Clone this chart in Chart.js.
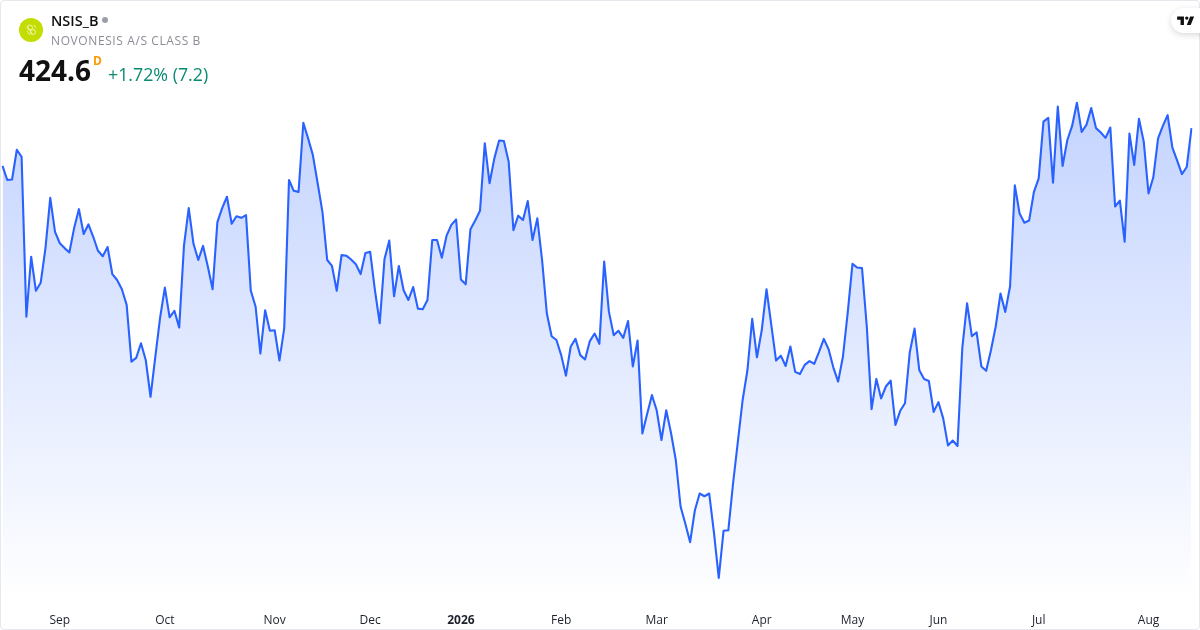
<!DOCTYPE html>
<html>
<head>
<meta charset="utf-8">
<title>NSIS_B</title>
<script src="https://cdn.jsdelivr.net/npm/chart.js@4"></script>
<style>
  html, body { margin: 0; padding: 0; background: #fff; }
  #card { position: relative; width: 1200px; height: 630px; overflow: hidden; font-family: "Open Sans", sans-serif; color: #111; }
  #frame { position: absolute; left: 0; top: 0; width: 1198px; height: 628px; border: 1px solid #e6e8ee; border-radius: 4px; pointer-events: none; }
  canvas { position: absolute; left: 0; top: 0; }
  .txt { position: absolute; white-space: nowrap; line-height: 1; }
  #logo { position: absolute; left: 19px; top: 18px; width: 24px; height: 24px; border-radius: 50%; background: #c3dd00; }
  #dot { position: absolute; left: 102px; top: 17px; width: 6px; height: 6px; border-radius: 50%; background: #9a9ea8; }
  #tv { position: absolute; left: 1171px; top: 8px; width: 50px; height: 25px; border-radius: 13px; background: #fff; box-shadow: 0 2px 6px rgba(0,0,0,.15); }
</style>
</head>
<body>
<div id="card">
  <canvas id="priceChart" width="1200" height="630"></canvas>
  <div id="frame"></div>
  <div id="logo">
    <svg width="24" height="24" viewBox="0 0 24 24" fill="none" stroke="#eef5b0" stroke-width="1">
      <circle cx="11" cy="9.5" r="2.5"/><circle cx="14" cy="14" r="2.5"/><path d="M8 13l3 4M15 7l2 3M8 8l5 8"/>
    </svg>
  </div>
  <div class="txt" style="left:51px;top:14px;font-size:14.5px;font-weight:600;">NSIS_B</div>
  <div id="dot"></div>
  <div class="txt" style="left:51px;top:35px;font-size:12px;color:#8a8d96;letter-spacing:.6px;">NOVONESIS A/S CLASS B</div>
  <div class="txt" style="left:19px;top:56px;font-size:28px;font-weight:700;">424.6</div>
  <div class="txt" style="left:93px;top:55px;font-size:12px;font-weight:700;color:#ff9800;">D</div>
  <div class="txt" style="left:108px;top:66px;font-size:17.8px;color:#0b8a72;">+1.72% (7.2)</div>
  <div id="tv">
    <svg style="position:absolute;left:4.9px;top:4.6px" width="20.4" height="15.9" viewBox="0 0 36 28" fill="#111">
      <path d="M14 6H2v6h6v9h6V6zm12 15h-7l6-15h7l-6 15zm-7-9a3 3 0 1 0 0-6 3 3 0 0 0 0 6z"/>
    </svg>
  </div>
</div>
<script>
// daily closes
const prices = [
  417.6, 415.0, 415.1, 420.6, 419.3, 389.7, 400.8, 394.5, 396.0, 402.4,
  411.7, 405.4, 403.3, 402.4, 401.6, 406.1, 409.6, 405.0, 406.8, 404.5,
  401.9, 400.9, 402.6, 397.6, 396.5, 394.8, 391.9, 381.4, 382.1, 384.8,
  381.7, 374.9, 382.3, 389.5, 395.1, 389.6, 390.8, 387.7, 402.8, 409.8,
  403.2, 400.2, 402.8, 399.0, 394.8, 407.2, 409.8, 411.9, 406.9, 408.3,
  408.0, 408.5, 394.5, 391.6, 382.9, 390.9, 387.1, 387.2, 381.6, 387.6,
  415.0, 413.0, 412.8, 425.6, 422.7, 419.6, 414.4, 409.1, 400.2, 399.1,
  394.5, 401.1, 401.0, 400.3, 399.4, 397.6, 401.5, 401.7, 394.6, 388.5,
  400.4, 403.8, 393.5, 399.1, 394.6, 392.8, 395.2, 391.2, 391.1, 392.8,
  403.9, 403.9, 400.6, 404.7, 406.7, 407.7, 396.6, 395.7, 405.9, 407.5,
  409.3, 421.8, 414.4, 419.0, 422.3, 422.2, 418.4, 405.7, 408.4, 407.6,
  411.1, 403.9, 407.9, 400.2, 390.3, 386.1, 385.4, 382.6, 378.8, 384.2,
  385.6, 382.6, 381.8, 385.2, 386.6, 384.7, 399.9, 390.6, 386.3, 387.1,
  385.8, 388.9, 380.5, 385.3, 368.1, 371.7, 375.2, 372.4, 366.9, 372.4,
  368.2, 363.2, 354.6, 351.4, 348.0, 353.9, 357.0, 356.5, 357.0, 349.7,
  341.4, 350.1, 350.2, 358.9, 366.6, 374.3, 379.8, 389.3, 382.2, 387.2,
  394.8, 388.2, 381.6, 382.5, 380.6, 384.2, 379.5, 379.1, 380.8, 381.5,
  381.0, 383.2, 385.6, 383.7, 380.3, 377.7, 382.3, 390.4, 399.5, 398.8,
  398.7, 387.9, 372.6, 378.2, 374.6, 376.8, 377.9, 369.7, 372.3, 373.7,
  383.1, 387.5, 379.8, 378.2, 377.8, 372.1, 373.9, 370.9, 365.9, 366.8,
  365.8, 383.9, 392.2, 386.1, 386.8, 380.5, 379.7, 383.5, 387.9, 394.0,
  390.6, 395.3, 414.0, 408.8, 407.1, 407.5, 412.8, 415.3, 425.8, 426.5,
  414.5, 428.6, 417.6, 422.4, 425.0, 429.3, 423.9, 425.2, 428.3, 424.6,
  423.8, 422.8, 424.7, 410.1, 411.2, 403.6, 423.6, 417.8, 426.3, 422.1,
  412.5, 415.5, 422.7, 425.0, 427.0, 421.0, 418.6, 416.1, 417.4, 424.6
];

const tickNames = ['Sep', 'Oct', 'Nov', 'Dec', '2026', 'Feb', 'Mar', 'Apr', 'May', 'Jun', 'Jul', 'Aug'];
const tickBars = [12, 34, 57, 77, 96, 117, 137, 159, 178, 196, 217, 240];

const labels = prices.map((p, i) => {
  const at = tickBars.indexOf(i);
  return at >= 0 ? tickNames[at] : '';
});

const ctx = document.getElementById('priceChart').getContext('2d');

function areaFill(context) {
  const area = context.chart.chartArea;
  if (!area) return 'rgba(41, 98, 255, 0.25)';
  const g = context.chart.ctx.createLinearGradient(0, 100, 0, area.bottom);
  g.addColorStop(0, 'rgba(41, 98, 255, 0.28)');
  g.addColorStop(1, 'rgba(41, 98, 255, 0)');
  return g;
}

new Chart(ctx, {
  type: 'line',
  data: {
    labels: labels,
    datasets: [{
      data: prices,
      borderColor: '#2962ff',
      borderWidth: 2.1,
      backgroundColor: areaFill,
      fill: 'start',
      pointRadius: 0,
      tension: 0,
      borderJoinStyle: 'round'
    }]
  },
  options: {
    responsive: false,
    animation: false,
    layout: { padding: { left: 2.5, right: 8.5, top: 0, bottom: 0 } },
    plugins: { legend: { display: false }, tooltip: { enabled: false } },
    scales: {
      y: { display: false, min: 337.3, max: 448.3 },
      x: {
        afterFit: (scale) => {
          scale.height = 30;
          scale.paddingLeft = 0;
          scale.paddingRight = 0;
        },
        border: { display: false },
        grid: { display: false },
        ticks: {
          autoSkip: false,
          maxRotation: 0,
          padding: 5,
          color: '#1e222d',
          font: (c) => ({
            family: '"Open Sans", sans-serif',
            size: 12,
            weight: c.tick && c.tick.label === '2026' ? '700' : '400'
          })
        }
      }
    }
  }
});
</script>
</body>
</html>
